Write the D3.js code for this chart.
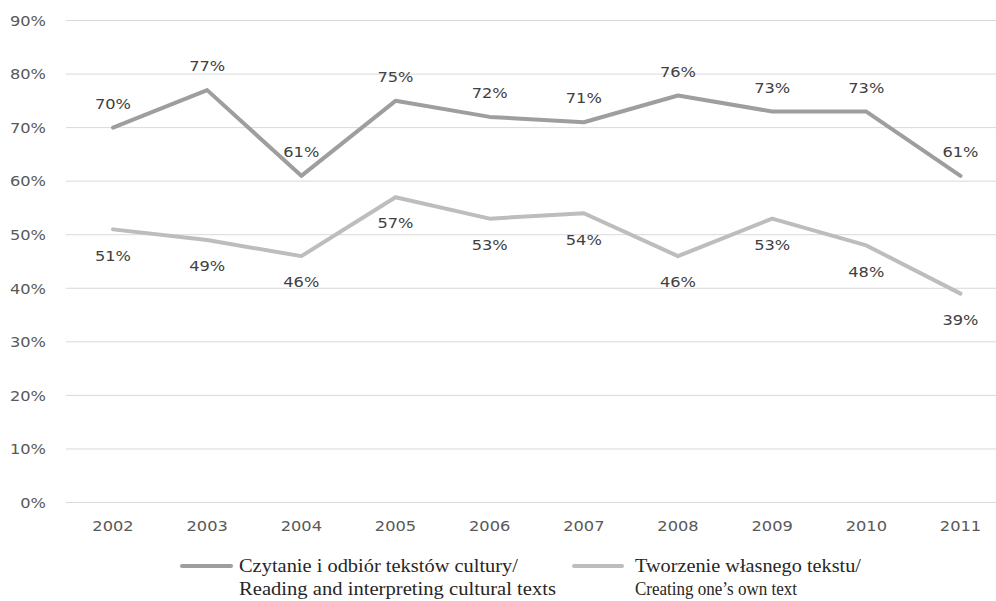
<!DOCTYPE html>
<html><head><meta charset="utf-8">
<script src="https://cdn.jsdelivr.net/npm/d3@7"></script>
<style>body{margin:0;background:#fff}svg{display:block}</style>
</head><body>
<script>
const years = ["2002","2003","2004","2005","2006","2007","2008","2009","2010","2011"];
const reading = [70,77,61,75,72,71,76,73,73,61];
const creating = [51,49,46,57,53,54,46,53,48,39];
const yTicks = [0,10,20,30,40,50,60,70,80,90];
const seriesNames = [
  ["Czytanie i odbiór tekstów cultury/","Reading and interpreting cultural texts"],
  ["Tworzenie własnego tekstu/","Creating one’s own text"]
];

const W=996,H=601;
const svg=d3.select("body").append("svg").attr("width",W).attr("height",H);
const x=d3.scalePoint().domain(years).range([113,960.5]);
const y=d3.scaleLinear().domain([0,90]).range([502.5,20.5]);
const gridX0=66, gridX1=1000;
const FONT="DejaVu Sans, Verdana, sans-serif";
const SX=1.12;

function label(parent,px,py,txt,anchor,fill){
  parent.append("text")
    .attr("transform",`translate(${px},${py}) scale(${SX},1)`)
    .attr("dy","0.36em").attr("text-anchor",anchor)
    .attr("font-family",FONT).attr("font-size",14.5).attr("fill",fill)
    .text(txt);
}

const g=svg.append("g");
yTicks.forEach(t=>{
  g.append("line").attr("x1",gridX0).attr("x2",gridX1).attr("y1",y(t)).attr("y2",y(t))
   .attr("stroke","#d9d9d9").attr("stroke-width",1);
  label(g,46,y(t),t+"%","end","#595959");
});
years.forEach(yr=>{
  label(g,x(yr),526,yr,"middle","#595959");
});

const series=[{vals:reading,color:"#9e9e9e",off:-24},{vals:creating,color:"#bdbdbd",off:26}];
const line=d3.line().x((d,i)=>x(years[i])).y(d=>y(d));
series.forEach(s=>{
  svg.append("path").attr("d",line(s.vals)).attr("fill","none").attr("stroke",s.color)
    .attr("stroke-width",4).attr("stroke-linejoin","round").attr("stroke-linecap","round");
});
series.forEach(s=>{
  s.vals.forEach((v,i)=>{
    label(svg,x(years[i]),y(v)+s.off,v+"%","middle","#404040");
  });
});

const leg=[{x0:182,x1:231,tx:239,color:"#9e9e9e",w:[279,317]},
           {x0:574,x1:622,tx:635,color:"#bdbdbd",w:[226,162]}];
leg.forEach((l,k)=>{
  svg.append("line").attr("x1",l.x0).attr("x2",l.x1).attr("y1",566).attr("y2",566)
    .attr("stroke",l.color).attr("stroke-width",4).attr("stroke-linecap","round");
  seriesNames[k].forEach((t,j)=>{
    svg.append("text").attr("x",l.tx).attr("y",572+j*23)
      .attr("font-family","Liberation Serif, DejaVu Serif, serif").attr("font-size",19)
      .attr("textLength",l.w[j]).attr("lengthAdjust","spacingAndGlyphs")
      .attr("fill","#262626").text(t);
  });
});
</script>
</body></html>
